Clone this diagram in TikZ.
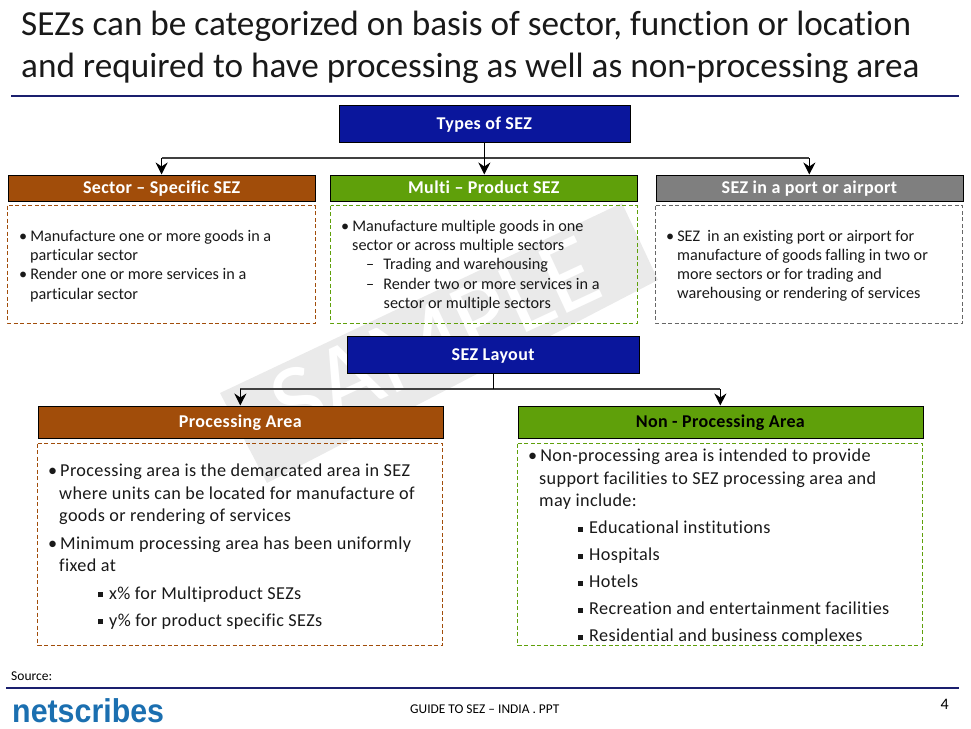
\documentclass[tikz,border=0pt]{standalone}
\usepackage{fontspec}
\setmainfont[Ligatures={NoCommon}]{Carlito}
\newfontfamily\logofont[FakeStretch=0.92]{Liberation Sans}
\usetikzlibrary{arrows.meta}
\definecolor{navy}{HTML}{0A169C}
\definecolor{rulec}{HTML}{1A1F6E}
\definecolor{brownc}{HTML}{A14D0A}
\definecolor{greenc}{HTML}{5FA00A}
\definecolor{greyc}{HTML}{7F7F7F}
\definecolor{wm}{HTML}{EAEAEA}
\definecolor{logoc}{HTML}{1B6FB0}
\newcommand{\sqb}{\rule[2pt]{5pt}{5pt}\hspace{6pt}}
\newcommand{\bul}{•\hspace{3pt}}
\tikzset{
 x=1pt,y=-1pt,
 hdr/.style={draw=black,line width=0.7pt,minimum height=#1,inner sep=0pt,text=white,text height=15pt,text depth=3pt,font=\fontsize{18}{20}\selectfont\addfontfeature{LetterSpace=2}\bfseries,anchor=north west},
 bodybox/.style={draw=#1,dash pattern=on 4pt off 2.5pt,line width=0.7pt},
 smalltxt/.style={anchor=north west,inner sep=0pt,align=left,font=\fontsize{16.2}{19.2}\selectfont,text=black!90},
 bigtxt/.style={anchor=north west,inner sep=0pt,align=left,font=\fontsize{18.2}{22.5}\selectfont\addfontfeature{LetterSpace=2},text=black!90},
 conn/.style={draw=black!75,line width=1.5pt},
 tip/.style={-{Stealth[length=12pt,width=12pt,inset=4pt]},draw=black,line width=1.3pt},
 rulel/.style={draw=rulec,line width=2pt},
}
\begin{document}
\begin{tikzpicture}
\useasboundingbox (0,0) rectangle (971,728);
% watermark
\fill[wm] (220,393) -- (622,203) -- (658,280) -- (267,483) -- cycle;
\node[rotate=25,text=white,font=\fontsize{105}{105}\selectfont] (wmk) at (435,338) {SAMPLE};
% title
\node[anchor=north west,inner sep=0pt,align=left,font=\fontsize{35.2}{41.5}\selectfont,text=black!90] (title) at (21,11) {SEZs can be categorized on basis of sector, function or location\\and required to have processing as well as non-processing area};
\draw[rulel] (11,95.5) -- (959,95.5);
% top
\node[hdr=37pt,fill=navy,minimum width=291pt] (types) at (338.5,104.5) {Types of SEZ};
\node[hdr=26pt,fill=brownc,minimum width=307.5pt] (sector) at (7.5,174.5) {Sector – Specific SEZ};
\node[hdr=26pt,fill=greenc,minimum width=307pt] (multi) at (330,174.5) {Multi – Product SEZ};
\node[hdr=26pt,fill=greyc,minimum width=307pt] (port) at (655.5,174.5) {SEZ in a port or airport};
\draw[bodybox=brownc] (7.5,205.5) rectangle (315,323);
\draw[bodybox=greenc] (330.5,205.5) rectangle (637,323);
\draw[bodybox=black!60] (655.5,205.5) rectangle (962.5,323);
\coordinate (busa) at (484,158);
\draw[conn] (sector.north |- busa) -- (port.north |- busa);
\draw[tip] (sector.north |- busa) -- (sector.north);
\draw[tip] (port.north |- busa) -- (port.north);
\draw[tip] (types.south) -- (types.south |- multi.north);
% top texts
\node[smalltxt] (t1) at (19,230) {\bul Manufacture one or more goods in a\\\hspace{11pt}particular sector\\\bul Render one or more services in a\\\hspace{11pt}particular sector};
\node[smalltxt] (t2) at (341,220) {\bul Manufacture multiple goods in one\\\hspace{11pt}sector or across multiple sectors\\\hspace{25pt}–\hspace{9pt}Trading and warehousing\\\hspace{25pt}–\hspace{9pt}Render two or more services in a\\\hspace{42.5pt}sector or multiple sectors};
\node[smalltxt] (t3) at (666,230) {\bul SEZ\ \ in an existing port or airport for\\\hspace{11pt}manufacture of goods falling in two or\\\hspace{11pt}more sectors or for trading and\\\hspace{11pt}warehousing or rendering of services};
% layout
\node[hdr=37pt,fill=navy,minimum width=291.5pt] (layout) at (347,335.5) {SEZ Layout};
\node[hdr=32pt,fill=brownc,minimum width=405pt] (proc) at (37.5,405.5) {Processing Area};
\node[hdr=32pt,fill=greenc,minimum width=405pt,text=black] (nonproc) at (517.5,405.5) {Non - Processing Area};
\draw[bodybox=brownc] (37.5,443.5) rectangle (442.5,645);
\draw[bodybox=greenc] (517.5,443.5) rectangle (922.5,645);
\coordinate (busb) at (493,389);
\draw[conn] (proc.north |- busb) -- (nonproc.north |- busb);
\draw[draw=black,line width=1pt] (layout.south) -- (layout.south |- busb);
\draw[tip] (proc.north |- busb) -- (proc.north);
\draw[tip] (nonproc.north |- busb) -- (nonproc.north);
\node[bigtxt] (t4) at (48,464) {\bul Processing area is the demarcated area in SEZ\\\hspace{11pt}where units can be located for manufacture of\\\hspace{11pt}goods or rendering of services\\[5pt]\bul Minimum processing area has been uniformly\\\hspace{11pt}fixed at\\[5pt]\hspace{50pt}\sqb x\% for Multiproduct SEZs\\[4.5pt]\hspace{50pt}\sqb y\% for product specific SEZs};
\node[bigtxt] (t5) at (528,449) {\bul Non-processing area is intended to provide\\\hspace{11pt}support facilities to SEZ processing area and\\\hspace{11pt}may include:\\[4.5pt]\hspace{50pt}\sqb Educational institutions\\[4.5pt]\hspace{50pt}\sqb Hospitals\\[4.5pt]\hspace{50pt}\sqb Hotels\\[4.5pt]\hspace{50pt}\sqb Recreation and entertainment facilities\\[4.5pt]\hspace{50pt}\sqb Residential and business complexes};
% footer
\node[anchor=west,inner sep=0pt,font=\fontsize{13.5}{14}\selectfont] (src) at (11,676) {Source:};
\draw[rulel] (6,688) -- (959,688);
\node[anchor=west,inner sep=0pt,font=\logofont\fontsize{33}{33}\selectfont\bfseries,text=logoc] (logo) at (12,711) {netscribes};
\node[anchor=west,inner sep=0pt,font=\fontsize{13.4}{14}\selectfont] (guide) at (410,709) {GUIDE TO SEZ – INDIA . PPT};
\node[anchor=east,inner sep=0pt,font=\fontsize{16}{16}\selectfont] (page) at (949,704) {4};
\end{tikzpicture}
\end{document}
